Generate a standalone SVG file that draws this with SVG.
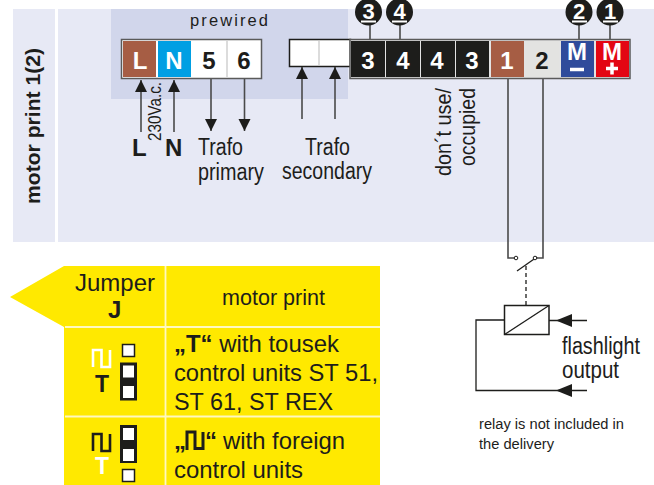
<svg xmlns="http://www.w3.org/2000/svg" width="654" height="485" viewBox="0 0 654 485">
<defs>
<marker id="a" markerUnits="userSpaceOnUse" markerWidth="13" markerHeight="17" refX="12" refY="6" orient="auto"><path d="M0 0L12 6L0 12Z" fill="#1d1d1b"/></marker>
</defs>
<style>
text{font-family:"Liberation Sans",Arial,sans-serif;fill:#1d1d1b}
.k{font-weight:700;font-size:24px;text-anchor:middle}
.w{fill:#fff}
.c{fill:#1d1d1b}
.l{stroke:#4a4a4a;stroke-width:1.6;fill:none}
.n{stroke:#1d1d1b;stroke-width:1.3;fill:none}
.t{font-size:23px}
.badge{font-weight:700;font-size:22px;text-anchor:middle;fill:#fff}
.sw{fill:#fff;stroke:#1d1d1b;stroke-width:1.5}
.wave{fill:none;stroke-width:2.6}
</style>
<g id="background">
<rect x="13" y="9" width="42" height="233" fill="#e7e9f5"/>
<rect x="58" y="9" width="596" height="233" fill="#e7e9f5"/>
<rect x="111" y="9" width="237" height="90" fill="#d1d6eb"/>
<path d="M64 266H380V486H64V327L10 297L64 266Z" fill="#ffe900"/>
<path d="M165.500 266V486M65 327H380M65 416.500H380" stroke="#fff8c0" stroke-width="1.800" fill="none"/>
</g>
<g id="connectors">
<path class="l" d="M141 132V80" marker-end="url(#a)"/>
<path class="l" d="M174 132V80" marker-end="url(#a)"/>
<path class="l" d="M211 79V131" marker-end="url(#a)"/>
<path class="l" d="M244.500 79V131" marker-end="url(#a)"/>
<path class="l" d="M302 119V67" marker-end="url(#a)"/>
<path class="l" d="M335 119V67" marker-end="url(#a)"/>
<path class="l" d="M370 24V39M400 24V39M579 24V39M610 24V39"/>
<path class="l" d="M508 79V258H516M543 79V258H535"/>
<path class="n" d="M517 271L537 257"/>
<path class="n" d="M526 266V305" stroke-dasharray="4 3"/>
<path class="n" d="M504.500 320H476V390.500H587" />
<path class="n" d="M587 320.500H549"/>
<path d="M572 314L556 320.500L572 327ZM572 384L556 390.500L572 397Z" fill="#1d1d1b"/>
</g>
<g id="label-side"><text transform="translate(40 204) rotate(-90)" font-size="20" font-weight="700" textLength="156" lengthAdjust="spacingAndGlyphs">motor print 1(2)</text></g>
<text x="190" y="26" font-size="16.500" textLength="79" style="letter-spacing:1px">prewired</text>
<g id="block-prewired">
<rect x="121.500" y="39.500" width="140" height="39" fill="#fff" stroke="#5a5a5a" stroke-width="1.500"/>
<rect x="123" y="41" width="33" height="36" fill="#a65d44"/>
<rect x="158" y="41" width="33" height="36" fill="#009fe3"/>
<path d="M227 41V77" stroke="#d0d0d0" stroke-width="1.500"/>
<text class="k w" x="140" y="69" style="fill:#fff">L</text><text class="k" x="174" y="69" style="fill:#fff">N</text>
<text class="k" x="209" y="69">5</text><text class="k" x="244" y="69">6</text>
</g>
<g id="block-secondary">
<rect x="289.500" y="39.500" width="61" height="27" fill="#fff" stroke="#1d1d1b" stroke-width="1.500"/>
<path d="M319 41V65" stroke="#d0d0d0" stroke-width="1.500"/>
</g>
<g id="block-main">
<rect x="350" y="39.500" width="280" height="39" fill="#e3e3e3" stroke="#5a5a5a" stroke-width="1.500"/>
<rect x="351" y="41" width="34" height="36" class="c"/><rect x="386" y="41" width="34" height="36" class="c"/>
<rect x="421" y="41" width="34" height="36" class="c"/><rect x="456" y="41" width="33" height="36" class="c"/>
<rect x="491" y="41" width="33" height="36" fill="#a65d44"/>
<rect x="526" y="41" width="33" height="36" fill="#e3e3e1"/>
<rect x="561" y="41" width="33" height="36" fill="#2f4b9b"/>
<rect x="596" y="41" width="33" height="36" fill="#e30613"/>
<text class="k" x="368" y="69" style="fill:#fff">3</text><text class="k" x="403" y="69" style="fill:#fff">4</text>
<text class="k" x="437" y="69" style="fill:#fff">4</text><text class="k" x="472" y="69" style="fill:#fff">3</text>
<text class="k" x="507" y="69" style="fill:#fff">1</text><text class="k" x="542" y="69">2</text>
<text class="k" x="577" y="60" style="fill:#fff">M</text><text class="k" x="612" y="60" style="fill:#fff">M</text>
<path d="M570 69.500H584" stroke="#fff" stroke-width="3.500"/>
<path d="M606 68.500H618M612 62.500V74.500" stroke="#fff" stroke-width="3.500"/>
</g>
<g id="badge-3"><circle cx="368.500" cy="12" r="13.500" class="c"/><text class="badge" x="368.500" y="19">3</text><path d="M361 21.500H376" stroke="#fff" stroke-width="2"/></g>
<g id="badge-4"><circle cx="399.500" cy="12" r="13.500" class="c"/><text class="badge" x="399.500" y="19">4</text><path d="M392 21.500H407" stroke="#fff" stroke-width="2"/></g>
<g id="badge-2"><circle cx="579" cy="12" r="13.500" class="c"/><text class="badge" x="579" y="19">2</text><path d="M572 21.500H587" stroke="#fff" stroke-width="2"/></g>
<g id="badge-1"><circle cx="610" cy="12" r="13.500" class="c"/><text class="badge" x="610" y="19">1</text><path d="M603 21.500H618" stroke="#fff" stroke-width="2"/></g>
<text x="132" y="156" font-size="24" font-weight="700">L</text>
<text x="165" y="156" font-size="24" font-weight="700">N</text>
<text transform="translate(161 141) rotate(-90)" font-size="18" textLength="59" lengthAdjust="spacingAndGlyphs">230Va.c.</text>
<text class="t" x="198" y="155" textLength="45" lengthAdjust="spacingAndGlyphs">Trafo</text>
<text class="t" x="198" y="180" textLength="66" lengthAdjust="spacingAndGlyphs">primary</text>
<text class="t" x="305" y="155" textLength="45" lengthAdjust="spacingAndGlyphs">Trafo</text>
<text class="t" x="282" y="179" textLength="90" lengthAdjust="spacingAndGlyphs">secondary</text>
<text transform="translate(451 176) rotate(-90)" font-size="22" textLength="88" lengthAdjust="spacingAndGlyphs">don´t use/</text>
<text transform="translate(475 166) rotate(-90)" font-size="22" textLength="78" lengthAdjust="spacingAndGlyphs">occupied</text>
<g id="relay">
<rect x="504.500" y="305.500" width="44.500" height="29" fill="none" stroke="#1d1d1b" stroke-width="1.500"/>
<path class="n" d="M504.500 334.500L549 305.500"/>
<circle cx="516" cy="258" r="1.800" fill="#fff" stroke="#1d1d1b"/>
<circle cx="535" cy="258" r="1.800" fill="#fff" stroke="#1d1d1b"/>
</g>
<text class="t" x="562" y="354" textLength="78" lengthAdjust="spacingAndGlyphs">flashlight</text>
<text class="t" x="562" y="378" textLength="57" lengthAdjust="spacingAndGlyphs">output</text>
<text x="479" y="429" font-size="14" textLength="145" lengthAdjust="spacingAndGlyphs">relay is not included in</text>
<text x="479" y="449" font-size="14" textLength="75" lengthAdjust="spacingAndGlyphs">the delivery</text>
<g id="table-text">
<text x="75" y="291" font-size="24" textLength="80">Jumper</text>
<text x="108" y="318" font-size="24" font-weight="700">J</text>
<text x="222" y="305" font-size="22" textLength="103" lengthAdjust="spacingAndGlyphs">motor print</text>
<text x="174" y="352" font-size="24" textLength="165" lengthAdjust="spacingAndGlyphs"><tspan font-weight="700">„T“</tspan> with tousek</text>
<text x="174" y="381" font-size="24" textLength="204" lengthAdjust="spacingAndGlyphs">control units ST 51,</text>
<text x="174" y="410" font-size="24" textLength="159" lengthAdjust="spacingAndGlyphs">ST 61, ST REX</text>
<text x="174" y="449" font-size="24" font-weight="700">„</text>
<path d="M187 450V432H195V448.500H203V432" fill="none" stroke="#1d1d1b" stroke-width="3"/>
<text x="205" y="449" font-size="24" font-weight="700">“</text>
<text x="223" y="449" font-size="24" textLength="122" lengthAdjust="spacingAndGlyphs">with foreign</text>
<text x="174" y="478" font-size="24" textLength="129" lengthAdjust="spacingAndGlyphs">control units</text>
</g>
<g id="jumper-t">
<path class="wave" stroke="#fff" d="M93 367V350H101.500V367H110V350"/>
<text x="102" y="392" font-size="23" font-weight="700" text-anchor="middle">T</text>
<rect x="122.500" y="344.500" width="12" height="12" class="sw"/>
<rect x="120" y="362.500" width="17" height="38" class="c"/>
<rect x="123" y="365.500" width="11" height="12" fill="#fff"/><rect x="123" y="386" width="11" height="12" fill="#fff"/>
</g>
<g id="jumper-pulse">
<path class="wave" stroke="#1d1d1b" d="M93 451V434H101.500V451H110V434"/>
<text x="102" y="474" font-size="23" font-weight="700" text-anchor="middle" style="fill:#fff">T</text>
<rect x="120" y="425" width="17" height="38" class="c"/>
<rect x="123" y="428" width="11" height="12" fill="#fff"/><rect x="123" y="449" width="11" height="12" fill="#fff"/>
<rect x="122.500" y="469.500" width="12" height="12" class="sw"/>
</g>
</svg>
